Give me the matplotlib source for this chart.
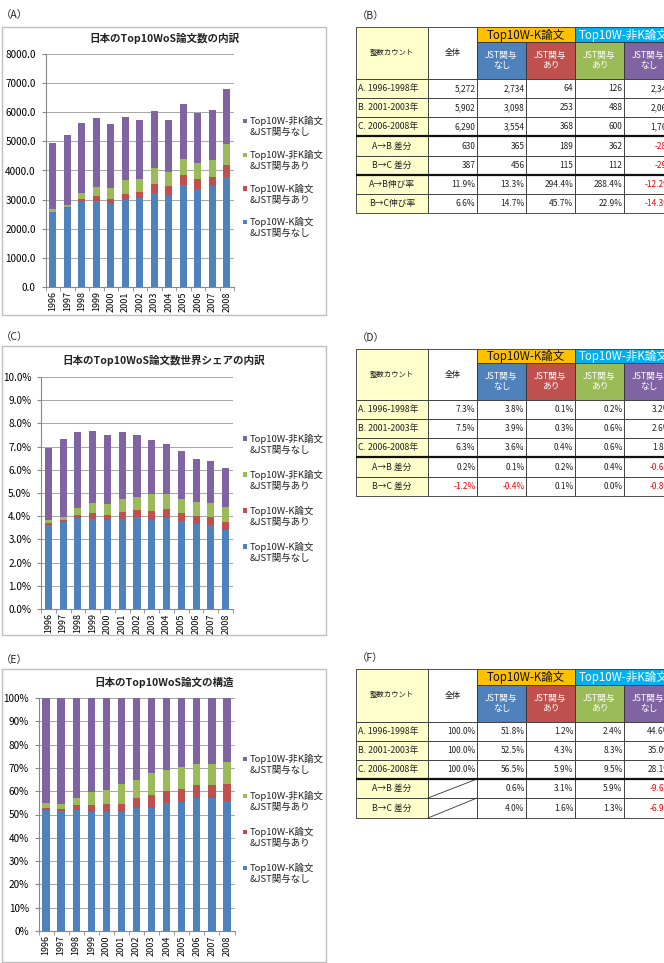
import numpy as np
import matplotlib
matplotlib.use("Agg")
import matplotlib.pyplot as plt
from matplotlib.patches import Rectangle
from matplotlib.ticker import FuncFormatter, MultipleLocator, FixedLocator

plt.rcParams['font.family'] = ['Noto Sans CJK JP', 'DejaVu Sans']

# ---------------- data ----------------
years = ['1996', '1997', '1998', '1999', '2000', '2001', '2002',
         '2003', '2004', '2005', '2006', '2007', '2008']

series_labels = ['Top10W-K論文\n&JST関与なし', 'Top10W-K論文\n&JST関与あり',
                 'Top10W-非K論文\n&JST関与あり', 'Top10W-非K論文\n&JST関与なし']
series_colors = ['#4F81BD', '#C0504D', '#9BBB59', '#8064A2']

# (A) counts
A_k_nojst = [2560, 2700, 2910, 2940, 2860, 3000, 3055, 3215, 3135, 3490, 3360, 3455, 3775]
A_k_jst = [30, 40, 100, 170, 170, 190, 205, 320, 320, 345, 345, 320, 425]
A_nk_jst = [90, 90, 210, 320, 370, 470, 460, 560, 495, 560, 550, 595, 710]
A_nk_nojst = [2250, 2380, 2410, 2370, 2210, 2180, 2025, 1960, 1790, 1885, 1705, 1715, 1885]

# (C) world share, %
C_k_nojst = [3.63, 3.76, 3.94, 3.89, 3.82, 3.88, 3.98, 3.85, 3.94, 3.79, 3.68, 3.62, 3.39]
C_k_jst = [0.08, 0.06, 0.13, 0.25, 0.25, 0.30, 0.27, 0.36, 0.36, 0.36, 0.34, 0.36, 0.37]
C_nk_jst = [0.11, 0.14, 0.28, 0.41, 0.44, 0.58, 0.59, 0.73, 0.67, 0.61, 0.59, 0.57, 0.64]
C_nk_nojst = [3.13, 3.35, 3.26, 3.14, 2.98, 2.87, 2.66, 2.36, 2.16, 2.05, 1.86, 1.83, 1.66]

# (E) structure, %
E_k_nojst = [52.0, 51.6, 52.0, 51.0, 51.0, 51.0, 53.0, 53.0, 54.9, 55.4, 56.9, 56.9, 56.0]
E_k_jst = [0.7, 0.7, 1.9, 2.9, 3.4, 3.7, 4.2, 5.5, 5.4, 5.5, 5.7, 5.6, 6.9]
E_nk_jst = [2.2, 2.3, 3.3, 5.6, 6.2, 8.2, 7.4, 9.4, 9.0, 9.3, 9.0, 9.3, 9.7]
E_nk_nojst = [45.1, 45.4, 42.8, 40.5, 39.4, 37.1, 35.4, 32.1, 30.7, 29.8, 28.4, 28.2, 27.4]

# tables
row_labels_main = ['A. 1996-1998年', 'B. 2001-2003年', 'C. 2006-2008年']
row_labels_diff = ['A→B 差分', 'B→C 差分']
row_labels_growth = ['A→B伸び率', 'B→C伸び率']

B_counts = [[5272, 2734, 64, 126, 2348],
            [5902, 3098, 253, 488, 2063],
            [6290, 3554, 368, 600, 1768]]
B_diff = [[630, 365, 189, 362, -285],
          [387, 456, 115, 112, -295]]
B_growth = [[11.9, 13.3, 294.4, 288.4, -12.2],
            [6.6, 14.7, 45.7, 22.9, -14.3]]
D_share = [[7.3, 3.8, 0.1, 0.2, 3.2],
           [7.5, 3.9, 0.3, 0.6, 2.6],
           [6.3, 3.6, 0.4, 0.6, 1.8]]
D_diff = [[0.2, 0.1, 0.2, 0.4, -0.6],
          [-1.2, -0.4, 0.1, 0.0, -0.8]]
F_struct = [[100.0, 51.8, 1.2, 2.4, 44.6],
            [100.0, 52.5, 4.3, 8.3, 35.0],
            [100.0, 56.5, 5.9, 9.5, 28.1]]
F_diff = [[None, 0.6, 3.1, 5.9, -9.6],
          [None, 4.0, 1.6, 1.3, -6.9]]

# ---------------- figure ----------------
W, H = 664, 963
fig = plt.figure(figsize=(W / 100, H / 100), dpi=100)
fig.patch.set_facecolor('white')

bg = fig.add_axes([0, 0, 1, 1])
bg.set_xlim(0, W)
bg.set_ylim(H, 0)
bg.axis('off')


def px_axes(left, top, right, bottom):
    return fig.add_axes([left / W, 1 - bottom / H, (right - left) / W, (bottom - top) / H])


def chart(frame, plot_box, title, title_y, label, label_y, series, ymax, ystep, fmt, legend_ys):
    fx0, fy0, fx1, fy1 = frame
    bg.add_patch(Rectangle((fx0, fy0), fx1 - fx0, fy1 - fy0, fill=False,
                           edgecolor='#BFBFBF', linewidth=1.0))
    bg.text(1, label_y, label, fontsize=7.5, ha='left', va='center', color='#222222')
    bg.text(164, title_y, title, fontsize=7.6, fontweight='bold', ha='center', va='center',
            color='#222222')
    ax = px_axes(*plot_box)
    x = np.arange(len(years))
    bottom = np.zeros(len(years))
    for vals, col in zip(series, series_colors):
        v = np.array(vals, dtype=float)
        ax.bar(x, v, 0.48, bottom=bottom, color=col, zorder=3, linewidth=0)
        bottom += v
    ax.set_xlim(-0.5, len(years) - 0.5)
    ax.set_ylim(0, ymax)
    ax.yaxis.set_major_locator(MultipleLocator(ystep))
    ax.yaxis.set_major_formatter(FuncFormatter(fmt))
    ax.set_xticks(x)
    ax.set_xticklabels(years, rotation=90, fontsize=6.5)
    ax.xaxis.set_minor_locator(FixedLocator(np.arange(-0.5, len(years), 1.0)))
    ax.tick_params(axis='x', which='major', length=0, pad=3)
    ax.tick_params(axis='x', which='minor', length=3, color='#888888')
    ax.tick_params(axis='y', length=3, color='#888888', labelsize=7.2, pad=4)
    ax.grid(axis='y', color='#A6A6A6', linewidth=0.7, zorder=0)
    for s in ['top', 'right']:
        ax.spines[s].set_visible(False)
    for s in ['left', 'bottom']:
        ax.spines[s].set_color('#888888')
        ax.spines[s].set_linewidth(0.8)
    ax.set_facecolor('none')
    # legend (top to bottom: reversed stacking order)
    for i, idx in enumerate([3, 2, 1, 0]):
        y = legend_ys[i]
        bg.add_patch(Rectangle((243, y - 2.2), 4.4, 4.4, color=series_colors[idx], linewidth=0))
        lines = series_labels[idx].split('\n')
        bg.text(250, y, lines[0], fontsize=6.8, ha='left', va='center', color='#222222')
        bg.text(250, y + 11.5, lines[1], fontsize=6.8, ha='left', va='center', color='#222222')
    return ax


chart((2, 27, 326, 315), (45.5, 54, 234, 287), '日本のTop10WoS論文数の内訳', 39, '（A）', 15,
      [A_k_nojst, A_k_jst, A_nk_jst, A_nk_nojst], 8000, 1000,
      lambda v, p: f'{v:.1f}', [121, 155, 188.5, 222])

chart((2, 346, 326, 635), (41, 377, 233, 609), '日本のTop10WoS論文数世界シェアの内訳', 361, '（C）', 337,
      [C_k_nojst, C_k_jst, C_nk_jst, C_nk_nojst], 10, 1,
      lambda v, p: f'{v:.1f}%', [438.5, 474.5, 510.5, 546.5])

chart((2, 669, 326, 962), (38.5, 698, 234.5, 931), '日本のTop10WoS論文の構造', 683, '（E）', 660,
      [E_k_nojst, E_k_jst, E_nk_jst, E_nk_nojst], 100, 10,
      lambda v, p: f'{v:.0f}%', [759, 796, 832, 868])

# ---------------- tables ----------------
xs = [356, 428, 477, 526, 575, 624, 673]
sub_colors = ['#4F81BD', '#C0504D', '#9BBB59', '#8064A2']
sub_texts = ['JST関与\nなし', 'JST関与\nあり', 'JST関与\nあり', 'JST関与\nなし']
YELLOW = '#FFFFCC'


def fmt_count(v):
    return f'{v:,}'


def fmt_pct(v):
    return f'{v:.1f}%'


def table(label, ys, rows, thick_after):
    top, band, hdr = ys[0], ys[1], ys[2]
    bg.text(357, top - 11, label, fontsize=7.5, ha='left', va='center', color='#222222')
    bg.add_patch(Rectangle((xs[0], top), xs[1] - xs[0], hdr - top, facecolor=YELLOW,
                           edgecolor='#333333', linewidth=0.6))
    bg.add_patch(Rectangle((xs[1], top), xs[2] - xs[1], hdr - top, facecolor='white',
                           edgecolor='#333333', linewidth=0.6))
    bg.add_patch(Rectangle((xs[2], top), xs[4] - xs[2], band - top, facecolor='#FFC000',
                           edgecolor='#333333', linewidth=0.6, clip_on=False))
    bg.add_patch(Rectangle((xs[4], top), xs[6] - xs[4], band - top, facecolor='#00B0F0',
                           edgecolor='#333333', linewidth=0.6, clip_on=False))
    bg.text((xs[0] + xs[1]) / 2, (top + hdr) / 2, '整数カウント', fontsize=5.3, ha='center',
            va='center', color='#222222')
    bg.text((xs[1] + xs[2]) / 2, (top + hdr) / 2, '全体', fontsize=5.8, ha='center',
            va='center', color='#222222')
    bg.text((xs[2] + xs[4]) / 2, (top + band) / 2 + 0.5, 'Top10W-K論文', fontsize=8.3,
            ha='center', va='center', color='#111111')
    bg.text((xs[4] + xs[6]) / 2, (top + band) / 2 + 0.5, 'Top10W-非K論文', fontsize=8.3,
            ha='center', va='center', color='white')
    for j in range(4):
        bg.add_patch(Rectangle((xs[2 + j], band), xs[3 + j] - xs[2 + j], hdr - band,
                               facecolor=sub_colors[j], edgecolor='#333333', linewidth=0.6,
                               clip_on=False))
        bg.text((xs[2 + j] + xs[3 + j]) / 2, (band + hdr) / 2, sub_texts[j], fontsize=6.3,
                ha='center', va='center', color='white', linespacing=1.15)
    edges = ys[2:]
    for i, (rlabel, vals, fmt, centered, diag) in enumerate(rows):
        y0, y1 = edges[i], edges[i + 1]
        ym = (y0 + y1) / 2
        bg.add_patch(Rectangle((xs[0], y0), xs[1] - xs[0], y1 - y0, facecolor=YELLOW,
                               edgecolor='#333333', linewidth=0.6))
        for j in range(1, 6):
            bg.add_patch(Rectangle((xs[j], y0), xs[j + 1] - xs[j], y1 - y0, facecolor='white',
                                   edgecolor='#333333', linewidth=0.6, clip_on=False))
        if centered:
            bg.text((xs[0] + xs[1]) / 2, ym, rlabel, fontsize=6.3, ha='center', va='center',
                    color='#222222')
        else:
            bg.text(xs[0] + 2, ym, rlabel, fontsize=6.3, ha='left', va='center', color='#222222')
        for j, v in enumerate(vals):
            if v is None:
                bg.plot([xs[1], xs[2]], [y1, y0], color='#333333', linewidth=0.6)
                continue
            col = '#FF0000' if v < 0 else '#222222'
            bg.text(xs[j + 2] - 1.5, ym + 0.3, fmt(v), fontsize=6, ha='right', va='center',
                    color=col)
    for yy in thick_after:
        bg.plot([xs[0], xs[6]], [yy, yy], color='#111111', linewidth=1.6, clip_on=False,
                solid_capstyle='butt')


rowsB = ([(l, v, fmt_count, False, False) for l, v in zip(row_labels_main, B_counts)] +
         [(l, v, fmt_count, True, False) for l, v in zip(row_labels_diff, B_diff)] +
         [(l, v, fmt_pct, True, False) for l, v in zip(row_labels_growth, B_growth)])
table('（B）', [27, 42, 79, 98, 117, 136, 156, 175, 194, 213], rowsB, [136, 175])

rowsD = ([(l, v, fmt_pct, False, False) for l, v in zip(row_labels_main, D_share)] +
         [(l, v, fmt_pct, True, False) for l, v in zip(row_labels_diff, D_diff)])
table('（D）', [349, 363, 400, 419, 438, 457, 477, 496], rowsD, [457])

rowsF = ([(l, v, fmt_pct, False, False) for l, v in zip(row_labels_main, F_struct)] +
         [(l, v, fmt_pct, True, True) for l, v in zip(row_labels_diff, F_diff)])
table('（F）', [669, 685, 722, 741, 760, 779, 798, 818], rowsF, [779])

fig.savefig('out.png', dpi=100)
